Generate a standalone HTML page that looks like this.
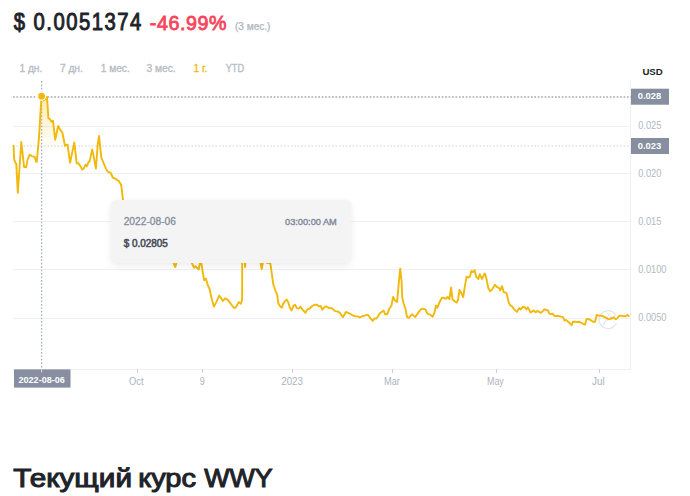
<!DOCTYPE html>
<html><head><meta charset="utf-8"><style>
html,body{margin:0;padding:0;background:#fff;}
body{width:690px;height:496px;overflow:hidden;position:relative;font-family:"Liberation Sans", sans-serif;}
svg{position:absolute;left:0;top:0;}
text{font-family:"Liberation Sans", sans-serif;}
.tt{position:absolute;left:111px;top:200px;width:239.8px;height:62.6px;background:#f5f5f5;border-radius:5px;box-shadow:0 4px 8px rgba(0,0,0,0.06),0 0 4px rgba(0,0,0,0.035);background:#f4f4f5;}
</style></head><body>
<svg width="690" height="496" viewBox="0 0 690 496">
<defs>
<linearGradient id="fg" gradientUnits="userSpaceOnUse" x1="0" y1="96" x2="0" y2="152">
<stop offset="0" stop-color="#f0b90b" stop-opacity="0.3"/>
<stop offset="1" stop-color="#f0b90b" stop-opacity="0"/>
</linearGradient>
</defs>
<!-- header -->
<text transform="translate(13.7,30) scale(0.88,1)" x="0" y="0" font-size="23" font-weight="400" fill="#1e2329" stroke="#1e2329" stroke-width="0.95" letter-spacing="1.72">$ 0.0051374</text>
<text transform="translate(149.8,30) scale(0.97,1)" x="0" y="0" font-size="20.3" font-weight="400" fill="#f6465d" stroke="#f6465d" stroke-width="0.85" letter-spacing="0.6">-46.99%</text>
<text x="235" y="29.6" font-size="10" fill="#aeb4be" stroke="#aeb4be" stroke-width="0.25" textLength="35.4" lengthAdjust="spacingAndGlyphs">(3 мес.)</text>
<!-- tabs -->
<g font-size="10.2" font-weight="400" fill="#b5bbc4" stroke="#b5bbc4" stroke-width="0.3">
<text x="19.4" y="72">1 дн.</text>
<text x="59.9" y="72">7 дн.</text>
<text x="100.7" y="72">1 мес.</text>
<text x="146.6" y="72">3 мес.</text>
<text x="193.6" y="72" fill="#f0b90b" stroke="#f0b90b">1 г.</text>
<text x="225.7" y="72" textLength="18.4" lengthAdjust="spacingAndGlyphs">YTD</text>
</g>
<text x="642.4" y="74.8" font-size="9.6" font-weight="700" fill="#1e2329" textLength="20.4" lengthAdjust="spacingAndGlyphs">USD</text>
<!-- grid -->
<g stroke="#eef0f2" stroke-width="1" shape-rendering="crispEdges">
<line x1="13" y1="126.5" x2="631" y2="126.5"/>
<line x1="13" y1="173.5" x2="631" y2="173.5"/>
<line x1="13" y1="221.5" x2="631" y2="221.5"/>
<line x1="13" y1="269.5" x2="631" y2="269.5"/>
<line x1="13" y1="318.5" x2="631" y2="318.5"/>
<line x1="630.5" y1="81" x2="630.5" y2="369"/>
<line x1="13" y1="369.5" x2="631" y2="369.5"/>
</g>
<g stroke="#c9ced6" stroke-width="1" shape-rendering="crispEdges">
<line x1="137.5" y1="369" x2="137.5" y2="373"/>
<line x1="202.5" y1="369" x2="202.5" y2="373"/>
<line x1="292.5" y1="369" x2="292.5" y2="373"/>
<line x1="392.5" y1="369" x2="392.5" y2="373"/>
<line x1="496.5" y1="369" x2="496.5" y2="373"/>
<line x1="599.5" y1="369" x2="599.5" y2="373"/>
</g>
<!-- crosshair -->
<line x1="13" y1="97" x2="631" y2="97" stroke="#767e8e" stroke-width="1.2" stroke-dasharray="1.7 1.73"/>
<line x1="13" y1="146" x2="631" y2="146" stroke="#d0d4db" stroke-width="1.1" stroke-dasharray="1.7 1.73"/>
<line x1="41.6" y1="81" x2="41.6" y2="369" stroke="#aab1bf" stroke-width="1.3" stroke-dasharray="1.7 1.73"/>
<!-- watermark -->
<g fill="none" stroke="#e4e6ea" stroke-width="1.2" stroke-linecap="round">
<path d="M615.2,314.2 A9,9 0 1 0 616.2,323.5"/>
<path d="M603.5,324.5 L609.5,313.5 M607.5,320.5 L611,316 L612.5,319 L615.5,314.5"/>
</g>
<!-- area + line -->
<path d="M13.5,145.8 L13.5,145.8 14.2,159.6 15.6,163.1 16.3,163.9 17.8,192.8 21.3,142 24.1,167 26.2,167.4 27.6,159.6 29.7,154.7 31.9,156.1 34.7,156.8 36.1,161.7 36.7,161.9 38.9,138.5 41.5,96.3 43.6,100.3 46.1,98.6 47,96.8 48.4,118.3 50.1,119.1 51.3,121.7 53,120.8 55.2,139.7 58.1,126 60.7,130.2 62.4,132.8 65,145.7 67.5,144.5 70.1,162.8 74.3,142.4 76.7,163.4 78.3,163.1 80.1,165.8 82.3,169.5 83.7,168.6 85.5,164.6 86.8,166.4 88.1,163.1 89.9,160.4 92.2,149.5 94.1,158.6 95.9,168.6 97.7,145 99,135.9 101.3,157.7 104,164 105.9,168.6 107.7,171.8 110.4,172.5 113.1,178 115.3,178.5 117.6,180.4 118.5,180.6 119.5,182.2 121.1,184.6 122.1,192.2 122.9,199.3 124,215 128,235 135,245 145,250 160,255 172,258 173,262 175.3,267 176.6,262 180,255 188,255 191.4,262.2 194,267.7 195.4,266.2 198.7,269.5 200.3,261 201.3,263 204.1,280.4 205.9,278.6 207.8,285.4 209.6,289 211.5,298.1 213.9,306.5 216.3,302.1 219.2,295.6 221.1,298.1 222.7,301 225.2,298.4 227.6,299.7 230.8,303.7 233.7,307.7 235.6,307.7 238.9,302.1 240.8,303.7 242.1,300 242.2,262 243,250 244.8,262 245.1,267 245.5,262 246,250 255,250 260.4,262 261.7,269.2 263,262 264,255 266.5,262 266.8,262.9 270.3,263.2 271.3,270.2 273.3,284.3 275.3,290.3 277.3,295.4 278.3,303.3 280.1,306.3 281.9,307.7 283.1,303.9 284.9,301.2 286.7,299.6 288.3,302.4 289.8,307.5 291.6,310.5 293.6,305.3 295.2,304.8 296.8,308.1 298.8,308.5 300.4,306.5 302.5,309.7 305.5,312.9 307.3,309.3 309.7,308.5 312.1,306 314.6,304.8 317,304.8 318.8,306.3 320.6,306 322.4,309.7 324.2,307.5 326,306.3 328.5,307.7 332.1,308.5 335.1,311.1 337.5,311.4 339.9,312.9 342.8,317.1 344.2,315 346,311.9 349.1,313.3 352.6,315.3 355.5,316.4 357.6,316.4 359.7,317.5 362.5,316.1 364.6,315.7 367.7,314.7 370.3,318.1 372.8,320.9 374.5,318.5 376.6,318.5 379.9,313.3 383.7,310.5 385.1,314.3 387.2,314.3 389.3,308.7 391.4,305.8 393.1,297 394.9,300.2 397.1,302 398.8,282.6 400.2,268.7 401.6,281.2 402.2,297 403.5,303 405.4,308.7 407.1,317.1 408.7,317.8 412,314.3 415.2,317.1 417.6,313.6 420.5,309.6 422.6,308.7 425.4,309.4 427.5,313.9 430.3,314.7 432.7,316.7 434.6,312.2 436,305.4 437.4,307.7 439.5,302.3 442,297.8 443.7,297.8 445.8,298.8 447.7,297 449.4,299.2 451.1,287.5 452.5,299.5 455,301.6 456.7,302.6 458.1,299.5 459.5,289.9 460.9,292.2 463.2,297 464.9,286.1 466.6,276.6 468.5,277.6 469.9,276.9 471.3,271 472.8,272 474.6,270.2 476.3,276.9 478.4,279 479.8,274.1 481.9,279 484.7,273.4 486.2,277.6 488.3,288.2 490.1,291.3 492.5,288.9 494.9,284.7 496.7,286.8 498.9,287.9 500.3,290.3 502,286.1 503.8,292.2 506.6,293.1 508.7,302.3 510.1,305.1 512.2,306.5 514.4,309.6 516.9,311.9 519.3,308 520.7,309.6 522.8,306.8 525,307.2 526.4,309.4 527.8,307.2 530.6,312.5 532.7,311.1 533.6,310.5 535.8,312.4 537.3,310.8 538.7,311.7 540.9,312.9 542.7,311.2 544.3,309.3 546.3,310 547.9,310.2 549.3,313.6 550.8,314.1 552.7,313.6 554.2,315.7 556,316 558.4,316 560.8,316.6 562.9,316.9 564.5,320.5 566,319.9 568.1,321.7 569.9,323.3 571.4,325.3 572.9,321.7 575,321.7 577.2,322.1 579,321.7 580.8,322.6 583.2,323.8 585,324.7 586.6,318.9 588.6,319.3 590.5,319.9 592.9,321.7 595.1,321.8 596.7,315 598.7,315.6 600.9,315.8 603.1,316.3 605.2,317.4 607.8,318.9 609.6,319.2 611.4,318.5 613.6,317.4 615.8,319.2 617.2,318.5 619,316 621.2,315.6 623.4,316.3 625.6,316.3 627.4,314.9 628.8,316 L628.8,369 L13.5,369 Z" fill="url(#fg)" stroke="none"/>
<polyline points="13.5,145.8 14.2,159.6 15.6,163.1 16.3,163.9 17.8,192.8 21.3,142 24.1,167 26.2,167.4 27.6,159.6 29.7,154.7 31.9,156.1 34.7,156.8 36.1,161.7 36.7,161.9 38.9,138.5 41.5,96.3 43.6,100.3 46.1,98.6 47,96.8 48.4,118.3 50.1,119.1 51.3,121.7 53,120.8 55.2,139.7 58.1,126 60.7,130.2 62.4,132.8 65,145.7 67.5,144.5 70.1,162.8 74.3,142.4 76.7,163.4 78.3,163.1 80.1,165.8 82.3,169.5 83.7,168.6 85.5,164.6 86.8,166.4 88.1,163.1 89.9,160.4 92.2,149.5 94.1,158.6 95.9,168.6 97.7,145 99,135.9 101.3,157.7 104,164 105.9,168.6 107.7,171.8 110.4,172.5 113.1,178 115.3,178.5 117.6,180.4 118.5,180.6 119.5,182.2 121.1,184.6 122.1,192.2 122.9,199.3 124,215 128,235 135,245 145,250 160,255 172,258 173,262 175.3,267 176.6,262 180,255 188,255 191.4,262.2 194,267.7 195.4,266.2 198.7,269.5 200.3,261 201.3,263 204.1,280.4 205.9,278.6 207.8,285.4 209.6,289 211.5,298.1 213.9,306.5 216.3,302.1 219.2,295.6 221.1,298.1 222.7,301 225.2,298.4 227.6,299.7 230.8,303.7 233.7,307.7 235.6,307.7 238.9,302.1 240.8,303.7 242.1,300 242.2,262 243,250 244.8,262 245.1,267 245.5,262 246,250 255,250 260.4,262 261.7,269.2 263,262 264,255 266.5,262 266.8,262.9 270.3,263.2 271.3,270.2 273.3,284.3 275.3,290.3 277.3,295.4 278.3,303.3 280.1,306.3 281.9,307.7 283.1,303.9 284.9,301.2 286.7,299.6 288.3,302.4 289.8,307.5 291.6,310.5 293.6,305.3 295.2,304.8 296.8,308.1 298.8,308.5 300.4,306.5 302.5,309.7 305.5,312.9 307.3,309.3 309.7,308.5 312.1,306 314.6,304.8 317,304.8 318.8,306.3 320.6,306 322.4,309.7 324.2,307.5 326,306.3 328.5,307.7 332.1,308.5 335.1,311.1 337.5,311.4 339.9,312.9 342.8,317.1 344.2,315 346,311.9 349.1,313.3 352.6,315.3 355.5,316.4 357.6,316.4 359.7,317.5 362.5,316.1 364.6,315.7 367.7,314.7 370.3,318.1 372.8,320.9 374.5,318.5 376.6,318.5 379.9,313.3 383.7,310.5 385.1,314.3 387.2,314.3 389.3,308.7 391.4,305.8 393.1,297 394.9,300.2 397.1,302 398.8,282.6 400.2,268.7 401.6,281.2 402.2,297 403.5,303 405.4,308.7 407.1,317.1 408.7,317.8 412,314.3 415.2,317.1 417.6,313.6 420.5,309.6 422.6,308.7 425.4,309.4 427.5,313.9 430.3,314.7 432.7,316.7 434.6,312.2 436,305.4 437.4,307.7 439.5,302.3 442,297.8 443.7,297.8 445.8,298.8 447.7,297 449.4,299.2 451.1,287.5 452.5,299.5 455,301.6 456.7,302.6 458.1,299.5 459.5,289.9 460.9,292.2 463.2,297 464.9,286.1 466.6,276.6 468.5,277.6 469.9,276.9 471.3,271 472.8,272 474.6,270.2 476.3,276.9 478.4,279 479.8,274.1 481.9,279 484.7,273.4 486.2,277.6 488.3,288.2 490.1,291.3 492.5,288.9 494.9,284.7 496.7,286.8 498.9,287.9 500.3,290.3 502,286.1 503.8,292.2 506.6,293.1 508.7,302.3 510.1,305.1 512.2,306.5 514.4,309.6 516.9,311.9 519.3,308 520.7,309.6 522.8,306.8 525,307.2 526.4,309.4 527.8,307.2 530.6,312.5 532.7,311.1 533.6,310.5 535.8,312.4 537.3,310.8 538.7,311.7 540.9,312.9 542.7,311.2 544.3,309.3 546.3,310 547.9,310.2 549.3,313.6 550.8,314.1 552.7,313.6 554.2,315.7 556,316 558.4,316 560.8,316.6 562.9,316.9 564.5,320.5 566,319.9 568.1,321.7 569.9,323.3 571.4,325.3 572.9,321.7 575,321.7 577.2,322.1 579,321.7 580.8,322.6 583.2,323.8 585,324.7 586.6,318.9 588.6,319.3 590.5,319.9 592.9,321.7 595.1,321.8 596.7,315 598.7,315.6 600.9,315.8 603.1,316.3 605.2,317.4 607.8,318.9 609.6,319.2 611.4,318.5 613.6,317.4 615.8,319.2 617.2,318.5 619,316 621.2,315.6 623.4,316.3 625.6,316.3 627.4,314.9 628.8,316" fill="none" stroke="#f0b90b" stroke-width="1.9" stroke-linejoin="round" stroke-linecap="round"/>
<circle cx="41.6" cy="96.2" r="4" fill="#f0b90b" stroke="#fff" stroke-width="1.2"/>
<!-- y labels -->
<g font-size="10.6" fill="#b3b9c3">
<text x="638.2" y="129" textLength="23.2" lengthAdjust="spacingAndGlyphs">0.025</text>
<text x="638.2" y="176.6" textLength="23.2" lengthAdjust="spacingAndGlyphs">0.020</text>
<text x="638.2" y="224.5" textLength="23.2" lengthAdjust="spacingAndGlyphs">0.015</text>
<text x="638.2" y="273.1" textLength="28.3" lengthAdjust="spacingAndGlyphs">0.0100</text>
<text x="638.2" y="320.8" textLength="28.3" lengthAdjust="spacingAndGlyphs">0.0050</text>
</g>
<rect x="631" y="88.7" width="38" height="16" fill="#868e9f"/>
<rect x="631" y="138" width="38" height="16" fill="#868e9f"/>
<g font-size="9.4" font-weight="700" fill="#fff">
<text x="637.8" y="99.3">0.028</text>
<text x="637.8" y="148.9">0.023</text>
</g>
<!-- x labels -->
<g font-size="10" fill="#adb3be">
<text x="129" y="385" textLength="14.5" lengthAdjust="spacingAndGlyphs">Oct</text>
<text x="199.8" y="385" textLength="5" lengthAdjust="spacingAndGlyphs">9</text>
<text x="281.2" y="385" textLength="21.8" lengthAdjust="spacingAndGlyphs">2023</text>
<text x="384" y="385" textLength="15.8" lengthAdjust="spacingAndGlyphs">Mar</text>
<text x="487" y="385" textLength="16.8" lengthAdjust="spacingAndGlyphs">May</text>
<text x="592.1" y="385" textLength="12.6" lengthAdjust="spacingAndGlyphs">Jul</text>
</g>
<rect x="14" y="369.4" width="56.5" height="18.2" fill="#868e9f"/>
<line x1="41.6" y1="369.4" x2="41.6" y2="372.4" stroke="#d5d9e0" stroke-width="1"/>
<text x="18.5" y="382.5" font-size="9.9" font-weight="700" fill="#fff" textLength="46.3" lengthAdjust="spacingAndGlyphs">2022-08-06</text>
<!-- heading -->
<g font-size="25.6" font-weight="400" fill="#1e2329" stroke="#1e2329" stroke-width="1.05">
<text x="13.2" y="486.5" textLength="118.8" lengthAdjust="spacingAndGlyphs">Текущий</text>
<text x="138.2" y="486.5" textLength="57.8" lengthAdjust="spacingAndGlyphs">курс</text>
<text x="204.2" y="486.5" textLength="68.3" lengthAdjust="spacingAndGlyphs">WWY</text>
</g>
</svg>
<div class="tt"></div>
<svg width="690" height="496" viewBox="0 0 690 496" style="pointer-events:none">
<text x="123.7" y="224.8" font-size="10" fill="#848d9c" stroke="#848d9c" stroke-width="0.3" textLength="52.2" lengthAdjust="spacingAndGlyphs">2022-08-06</text>
<text x="285" y="224.6" font-size="9.9" font-weight="400" fill="#7f8898" stroke="#7f8898" stroke-width="0.4" textLength="51.8" lengthAdjust="spacingAndGlyphs">03:00:00 AM</text>
<text x="123.7" y="246.5" font-size="10.3" font-weight="400" fill="#474d57" stroke="#474d57" stroke-width="0.55" textLength="44.2" lengthAdjust="spacingAndGlyphs">$ 0.02805</text>
</svg>
</body></html>
